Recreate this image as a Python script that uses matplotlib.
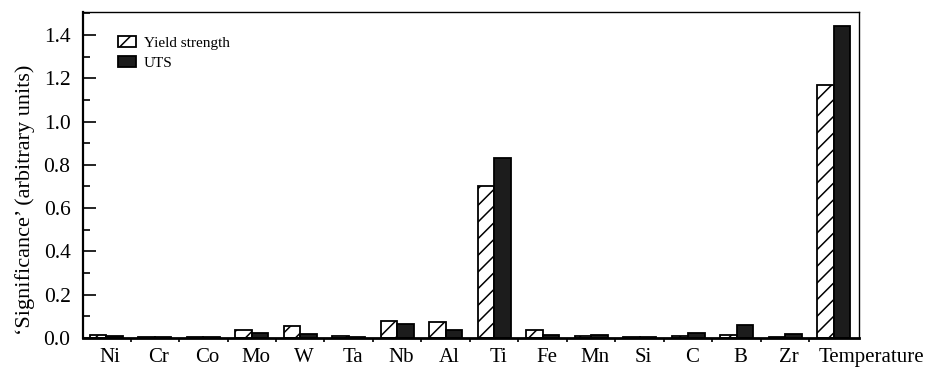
import numpy as np
import matplotlib
matplotlib.use("Agg")
import matplotlib.pyplot as plt
from matplotlib.ticker import MultipleLocator, FixedLocator

categories = ["Ni", "Cr", "Co", "Mo", "W", "Ta", "Nb", "Al", "Ti", "Fe",
              "Mn", "Si", "C", "B", "Zr", "Temperature"]
yield_strength = [0.015, 0.005, 0.005, 0.035, 0.055, 0.008, 0.08, 0.075, 0.70,
                  0.035, 0.008, 0.005, 0.008, 0.012, 0.004, 1.17]
uts = [0.01, 0.005, 0.006, 0.025, 0.018, 0.003, 0.065, 0.035, 0.83,
       0.015, 0.012, 0.006, 0.025, 0.06, 0.02, 1.44]

plt.rcParams['font.family'] = ['Liberation Serif', 'DejaVu Serif']
plt.rcParams['hatch.linewidth'] = 1.1

fig = plt.figure(figsize=(9.37, 3.69), dpi=100)
ax = fig.add_axes([0.0886, 0.084, 0.828, 0.883])

x = np.arange(len(categories))
w = 0.34
ax.bar(x - w / 2, yield_strength, width=w, facecolor='white', edgecolor='black',
       hatch='//', linewidth=1.3, label='Yield strength')
ax.bar(x + w / 2, uts, width=w, facecolor='#1c1c1c', edgecolor='black',
       linewidth=1.3, label='UTS')

ax.set_xlim(-0.48, 15.52)
ax.set_ylim(0, 1.505)
ax.yaxis.set_major_locator(MultipleLocator(0.2))
ax.yaxis.set_minor_locator(MultipleLocator(0.1))
ax.set_yticklabels([f"{v:.1f}" for v in ax.get_yticks()])
ax.tick_params(axis='y', which='major', direction='in', length=9, width=1.2,
               labelsize=15.5, pad=9)
ax.tick_params(axis='y', which='minor', direction='in', length=5, width=1.2)

ax.set_xticks(x)
ax.set_xticklabels([])
ax.xaxis.set_minor_locator(FixedLocator(np.arange(0.5, 15, 1.0)))
ax.tick_params(axis='x', which='major', length=0)
ax.tick_params(axis='x', which='minor', direction='out', length=3, width=1.2)

for i, c in enumerate(categories):
    if c == "Temperature":
        ax.text(i - 0.3, -0.045, c, ha='left', va='top', fontsize=15)
    else:
        ax.text(i + 0.08, -0.045, c, ha='center', va='top', fontsize=15)

for s in ax.spines.values():
    s.set_linewidth(1.0)
ax.spines['bottom'].set_linewidth(2.0)
ax.spines['left'].set_linewidth(1.6)

ax.set_ylabel("‘Significance’ (arbitrary units)", fontsize=16)
ax.yaxis.set_label_coords(-0.062, 0.423)

leg = ax.legend(loc='upper left', bbox_to_anchor=(0.027, 0.97), frameon=False,
                fontsize=11, handlelength=1.2, handleheight=0.75,
                handletextpad=0.5, labelspacing=0.4)

fig.savefig("out.png", dpi=100)
